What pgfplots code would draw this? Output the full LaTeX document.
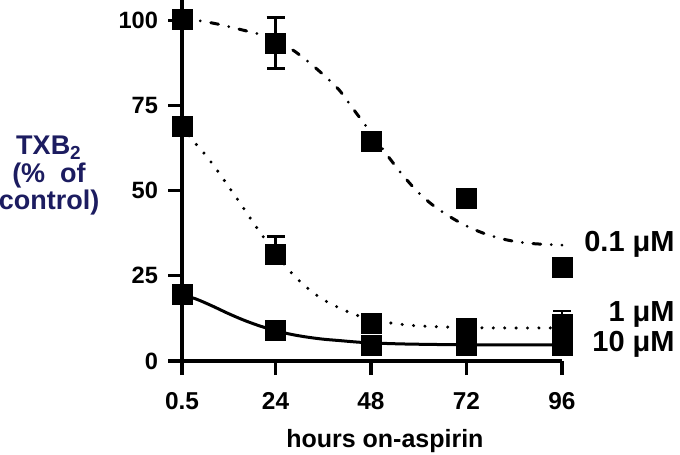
\documentclass[border=0pt]{standalone}
\usepackage{fontspec}
\setmainfont{Liberation Sans}
\usepackage{pgfplots}
\pgfplotsset{compat=1.18}
\definecolor{labelnavy}{RGB}{28,28,96}
\begin{document}
\begin{tikzpicture}
\path[use as bounding box] (0,0) rectangle (340pt,227.5pt);
\begin{axis}[
  at={(91pt,47pt)}, anchor=south west,
  scale only axis, width=190pt, height=180.5pt,
  xmin=0.5, xmax=96, ymin=0, ymax=105.9,
  axis x line*=bottom, axis y line*=left,
  axis line style={line width=1.6pt, -},
  xtick={0.5,24,48,72,96}, xticklabels={0.5,24,48,72,96},
  ytick={0,25,50,75,100}, yticklabels={0,25,50,75,100},
  tick align=outside, major tick length=7pt,
  every tick/.style={black, line width=1.6pt},
  xticklabel style={font=\bfseries\fontsize{12.2}{13}\selectfont, yshift=-5pt},
  yticklabel style={font=\bfseries\fontsize{11.8}{12}\selectfont, xshift=-1.5pt},
  xlabel={hours on-aspirin},
  xlabel style={at={(rel axis cs:0.534,0)}, anchor=base, yshift=-43pt,
    font=\bfseries\fontsize{12.5}{13}\selectfont},
  clip=false,
]
% fitted curves
\addplot[line width=1.5pt, line cap=round, smooth,
  dash pattern=on 3.9pt off 5.3pt on 0pt off 5.3pt] coordinates {
  (0.5,100.3) (5,99.8) (10,98.7) (15,97.3) (20,95.8) (24,93.8) (28,91.5)
  (32,88) (36,84) (40,79.5) (44,73.2) (48,67) (52,60.5) (56,54.5)
  (60,49.3) (64,45.3) (68,42.2) (72,39.6) (76,37.6) (80,36.1) (84,35.1)
  (88,34.5) (92,34.2) (96,34)};
\addplot[line width=1.7pt, line cap=round, smooth,
  dash pattern=on 0pt off 5.7pt] coordinates {
  (0.5,68.7) (3,65) (6,61) (9,56.5) (12,51.5) (15,46.5) (18,41.3) (21,36.3)
  (24,31.8) (27,27.2) (30,23.5) (33,20.5) (36,18) (40,15.6) (44,13.6)
  (48,12.2) (52,11.3) (56,10.7) (60,10.3) (66,10) (72,9.8) (80,9.7) (96,9.7)};
\addplot[line width=1.5pt, smooth] coordinates {
  (0.5,19.4) (4,18.2) (8,16.2) (12,14) (16,12) (20,10.3) (24,8.9) (28,7.8)
  (32,7) (36,6.4) (40,6) (44,5.6) (48,5.3) (56,5) (64,4.85) (72,4.75) (96,4.7)};
% measured points
\pgfplotsset{measured/.style={only marks, mark=square*, mark size=5pt,
  mark options={fill=black, draw=none},
  error bars/.cd, y dir=both, y explicit,
  error bar style={line width=1.3pt, black},
  error mark options={rotate=90, mark size=4.5pt, line width=1.3pt, black}}}
\addplot[measured] coordinates {
  (0.5,100.2) (24,93.3) +- (0,7.5) (48,64.4) (72,47.8) (96,27.4)};
\addplot[measured] coordinates {
  (0.5,68.7) (24,31.4) += (0,5.1) -= (0,0) (48,10.9) (72,9.7)
  (96,10.6) += (0,4.1) -= (0,0)};
\addplot[measured] coordinates {
  (0.5,19.4) (24,8.9) (48,4.7) (72,4.7) (96,4.7)};
\end{axis}
% y-axis title
\begin{scope}[every node/.style={anchor=base, text=labelnavy,
    font=\bfseries\fontsize{13.5}{14}\selectfont, inner sep=0pt}]
\node at (24.5pt,150pt) {TXB\textsubscript{2}};
\node at (24.5pt,136pt) {(\%\ \ of};
\node at (24.5pt,122.5pt) {control)};
\end{scope}
% concentration labels
\begin{scope}[every node/.style={anchor=base east, inner sep=0pt,
    font=\bfseries\fontsize{14.5}{15}\selectfont}]
\node at (337.5pt,101.5pt) {0.1 μM};
\node at (337.5pt,66.5pt) {1 μM};
\node at (337.5pt,51.5pt) {10 μM};
\end{scope}
\end{tikzpicture}
\end{document}
